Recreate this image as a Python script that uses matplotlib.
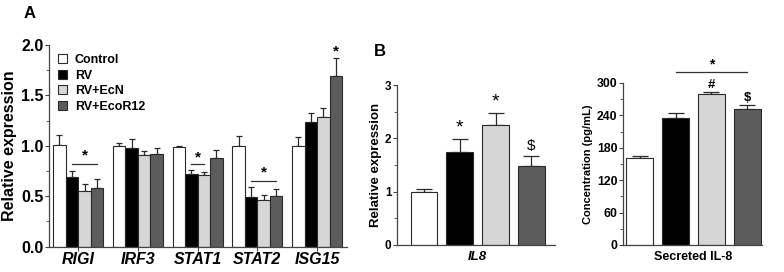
import matplotlib
matplotlib.use("Agg")
import matplotlib.pyplot as plt
import numpy as np
from matplotlib.ticker import MultipleLocator

plt.rcParams['font.family'] = ['Liberation Sans', 'DejaVu Sans']

groups = ["Control", "RV", "RV+EcN", "RV+EcoR12"]
colors = ["#ffffff", "#000000", "#d6d6d6", "#5c5c5c"]
edge = "#2a2a2a"

genes = ["RIGI", "IRF3", "STAT1", "STAT2", "ISG15"]
control_mean = [1.01, 1.00, 0.99, 1.00, 1.00]
control_err = [0.10, 0.03, 0.01, 0.10, 0.09]
rv_mean = [0.69, 0.98, 0.72, 0.49, 1.24]
rv_err = [0.06, 0.09, 0.04, 0.10, 0.09]
ecn_mean = [0.55, 0.91, 0.71, 0.46, 1.29]
ecn_err = [0.07, 0.04, 0.03, 0.05, 0.09]
ecor_mean = [0.58, 0.92, 0.88, 0.50, 1.69]
ecor_err = [0.09, 0.06, 0.08, 0.07, 0.18]

il8_mean = [1.00, 1.74, 2.26, 1.48]
il8_err = [0.05, 0.25, 0.22, 0.18]
il8_marks = ["", "*", "*", "$"]

sec_mean = [161, 236, 279, 252]
sec_err = [3, 9, 4, 8]
sec_marks = ["", "", "#", "$"]

fig = plt.figure(figsize=(7.84, 2.72), dpi=100)

# ---- Panel A ----
axA = fig.add_axes([0.0625, 0.093, 0.380, 0.7415])
means = [control_mean, rv_mean, ecn_mean, ecor_mean]
errs = [control_err, rv_err, ecn_err, ecor_err]
x = np.arange(len(genes))
w = 0.21
for i in range(4):
    pos = x + (i - 1.5) * w
    axA.bar(pos, means[i], w, color=colors[i], edgecolor=edge, linewidth=0.8,
            label=groups[i], zorder=2)
    axA.errorbar(pos, means[i], yerr=[np.zeros(5), errs[i]], fmt='none',
                 ecolor=edge, elinewidth=0.9, capsize=2.5, capthick=0.9, zorder=1)
axA.set_xlim(-0.49, 4.5)
axA.set_ylim(0, 2.0)
axA.yaxis.set_minor_locator(MultipleLocator(0.25))
axA.set_yticks([0, 0.5, 1.0, 1.5, 2.0])
axA.set_yticklabels(["0.0", "0.5", "1.0", "1.5", "2.0"], fontsize=11.5, fontweight='bold')
axA.set_xticks(x)
axA.set_xticklabels(genes, fontsize=11.5, fontweight='bold', style='italic')
axA.set_ylabel("Relative expression", fontsize=11.5, fontweight='bold', labelpad=3)
axA.spines['top'].set_visible(False)
axA.spines['right'].set_visible(False)
for s in ['left', 'bottom']:
    axA.spines[s].set_color('#444444')
    axA.spines[s].set_linewidth(0.9)
axA.tick_params(axis='both', which='major', length=3, width=0.8, color='#444444', pad=1)
axA.tick_params(axis='y', which='minor', length=2, width=0.6, color='#444444')

# significance
def sig(ax, x1, x2, y, ys, txt="*", fs=11):
    ax.plot([x1, x2], [y, y], color='#333333', lw=0.9, clip_on=False)
    ax.text((x1 + x2) / 2, ys, txt, ha='center', va='center', fontsize=fs, fontweight='bold')

sig(axA, 0 - 0.5 * w, 0 + 1.5 * w, 0.82, 0.90)
sig(axA, 2 - 0.5 * w, 2 + 0.5 * w, 0.82, 0.885)
sig(axA, 3 - 0.5 * w, 3 + 1.5 * w, 0.655, 0.735)
axA.text(4 + 1.5 * w, 1.94, "*", ha='center', va='center', fontsize=11, fontweight='bold')

leg = axA.legend(loc='upper left', bbox_to_anchor=(0.0, 1.0), frameon=False,
                 prop={'size': 9, 'weight': 'bold'}, handlelength=0.75, handleheight=0.75,
                 handletextpad=0.6, labelspacing=0.3, borderaxespad=0.3)
for h in leg.legend_handles:
    h.set_linewidth(0.8)

fig.text(30 / 784, 1 - 13 / 272, "A", fontsize=12, fontweight='bold', ha='center', va='center')
fig.text(380 / 784, 1 - 52 / 272, "B", fontsize=12, fontweight='bold', ha='center', va='center')

def style_small(ax):
    ax.spines['top'].set_visible(False)
    ax.spines['right'].set_visible(False)
    for s in ['left', 'bottom']:
        ax.spines[s].set_color('#444444')
        ax.spines[s].set_linewidth(0.9)
    ax.tick_params(axis='y', which='major', length=3, width=0.8, color='#444444', pad=1)
    ax.tick_params(axis='y', which='minor', length=2, width=0.6, color='#444444')
    ax.tick_params(axis='x', which='major', length=0, pad=4)

# ---- Panel B ----
axB = fig.add_axes([0.5064, 0.0993, 0.2015, 0.588])
xb = np.arange(4)
wb = 0.754
axB.bar(xb, il8_mean, wb, color=colors, edgecolor=edge, linewidth=0.8, zorder=2)
axB.errorbar(xb, il8_mean, yerr=[np.zeros(4), il8_err], fmt='none', ecolor=edge,
             elinewidth=0.9, capsize=6, capthick=0.9, zorder=1)
axB.set_xlim(-0.754, 3.66)
axB.set_ylim(0, 3)
axB.yaxis.set_minor_locator(MultipleLocator(0.5))
axB.set_yticks([0, 1, 2, 3])
axB.set_yticklabels(["0", "1", "2", "3"], fontsize=8.5, fontweight='bold')
axB.set_xticks([1.5])
axB.set_xticklabels(["IL8"], fontsize=9.5, fontweight='bold', style='italic')
axB.set_ylabel("Relative expression", fontsize=9.5, fontweight='bold', labelpad=2)
style_small(axB)
for xi, m, e, t in zip(xb, il8_mean, il8_err, il8_marks):
    if t:
        axB.text(xi, m + e + 0.2, t, ha='center', va='center',
                 fontsize=14 if t == "*" else 11)

# ---- Panel C ----
axC = fig.add_axes([0.7946, 0.0993, 0.177, 0.5956])
axC.bar(xb, sec_mean, wb, color=colors, edgecolor=edge, linewidth=0.8, zorder=2)
axC.errorbar(xb, sec_mean, yerr=[np.zeros(4), sec_err], fmt='none', ecolor=edge,
             elinewidth=0.9, capsize=6, capthick=0.9, zorder=1)
axC.set_xlim(-0.475, 3.405)
axC.set_ylim(0, 300)
axC.yaxis.set_minor_locator(MultipleLocator(30))
axC.set_yticks([0, 60, 120, 180, 240, 300])
axC.set_yticklabels(["0", "60", "120", "180", "240", "300"], fontsize=8.8, fontweight='bold')
axC.set_xticks([1.5])
axC.set_xticklabels(["Secreted IL-8"], fontsize=9, fontweight='bold')
axC.set_ylabel("Concentration (pg/mL)", fontsize=8, fontweight='bold', labelpad=3)
style_small(axC)
for xi, m, e, t in zip(xb, sec_mean, sec_err, sec_marks):
    if t:
        axC.text(xi, m + e + 13, t, ha='center', va='center', fontsize=9.5, fontweight='bold')
sig(axC, 1, 3, 320, 334, fs=10)

fig.savefig("out.png", dpi=100)
